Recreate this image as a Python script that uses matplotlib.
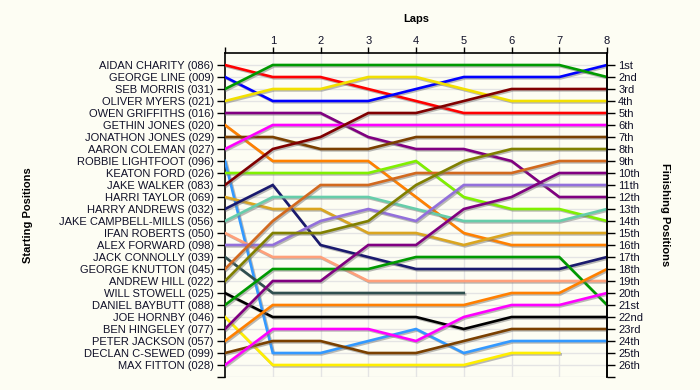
import matplotlib
matplotlib.use("Agg")
import matplotlib.pyplot as plt
import matplotlib.patheffects as pe
import numpy as np

plt.rcParams['font.family'] = ['Liberation Sans', 'DejaVu Sans']

# starting grid order
drivers = ['AIDAN CHARITY (086)', 'GEORGE LINE (009)', 'SEB MORRIS (031)', 'OLIVER MYERS (021)',
           'OWEN GRIFFITHS (016)', 'GETHIN JONES (020)', 'JONATHON JONES (029)', 'AARON COLEMAN (027)',
           'ROBBIE LIGHTFOOT (096)', 'KEATON FORD (026)', 'JAKE WALKER (083)', 'HARRI TAYLOR (069)',
           'HARRY ANDREWS (032)', 'JAKE CAMPBELL-MILLS (056)', 'IFAN ROBERTS (050)', 'ALEX FORWARD (098)',
           'JACK CONNOLLY (039)', 'GEORGE KNUTTON (045)', 'ANDREW HILL (022)', 'WILL STOWELL (025)',
           'DANIEL BAYBUTT (088)', 'JOE HORNBY (046)', 'BEN HINGELEY (077)', 'PETER JACKSON (057)',
           'DECLAN C-SEWED (099)', 'MAX FITTON (028)']

colors = ['#ff0000', '#0000ff', '#009a00', '#f2e000', '#800080', '#ff8000', '#7a4000', '#ff00ff',
          '#3399ff', '#80f000', '#800000', '#daa520', '#1a1a6e', '#66cdaa', '#ffa07a', '#9370db',
          '#2f4f4f', '#d2691e', '#808000', '#000000', '#009a00', '#ffee00', '#800080', '#ff8000',
          '#7a4000', '#ff00ff']

laps = [0, 1, 2, 3, 4, 5, 6, 7, 8]

# position after each lap (lap 0 = grid), None = retired
positions = [
    [1, 2, 2, 3, 4, 5, 5, 5, 5],
    [2, 4, 4, 4, 3, 2, 2, 2, 1],
    [3, 1, 1, 1, 1, 1, 1, 1, 2],
    [4, 3, 3, 2, 2, 3, 4, 4, 4],
    [5, 5, 5, 7, 8, 8, 9, 12, 12],
    [6, 9, 9, 9, 12, 15, 16, 16, 16],
    [7, 7, 8, 8, 7, 7, 7, 7, 7],
    [8, 6, 6, 6, 6, 6, 6, 6, 6],
    [9, 25, 25, 24, 23, 25, 24, 24, 24],
    [10, 10, 10, 10, 9, 12, 13, 13, 14],
    [11, 8, 7, 5, 5, 4, 3, 3, 3],
    [12, 13, 13, 15, 15, 16, 15, 15, 15],
    [13, 11, 16, 17, 18, 18, 18, 18, 17],
    [14, 12, 12, 12, 13, 14, 14, 14, 13],
    [15, 17, 17, 19, 19, 19, 19, 19, 19],
    [16, 16, 14, 13, 14, 11, 11, 11, 11],
    [17, 20, 20, 20, 20, 20, None, None, None],
    [18, 14, 11, 11, 10, 10, 10, 9, 9],
    [19, 15, 15, 14, 11, 9, 8, 8, 8],
    [20, 22, 22, 22, 22, 23, 22, 22, 22],
    [21, 18, 18, 18, 17, 17, 17, 17, 21],
    [22, 26, 26, 26, 26, 26, 25, 25, None],
    [23, 19, 19, 16, 16, 13, 12, 10, 10],
    [24, 21, 21, 21, 21, 21, 20, 20, 18],
    [25, 24, 24, 25, 25, 24, 23, 23, 23],
    [26, 23, 23, 23, 24, 22, 21, 21, 20],
]

finish_labels = ['1st', '2nd', '3rd', '4th', '5th', '6th', '7th', '8th', '9th', '10th', '11th', '12th',
                 '13th', '14th', '15th', '16th', '17th', '18th', '19th', '20th', '21st', '22nd', '23rd',
                 '24th', '25th', '26th']

bg = '#fdfdf3'
txt = '#101028'
fig = plt.figure(figsize=(7, 3.9), dpi=100, facecolor=bg)
ax = fig.add_axes([225/700, 1-377/390, 382/700, 324/390], facecolor=bg)

shadow = [pe.SimpleLineShadow(offset=(1, -1), shadow_color='#777777', alpha=0.5), pe.Normal()]
for name, col, pos in zip(drivers, colors, positions):
    x = [l for l, p in zip(laps, pos) if p is not None]
    y = [p for p in pos if p is not None]
    ax.plot(x, y, color=col, lw=1.9, solid_joinstyle='miter', path_effects=shadow, zorder=3)

n = len(drivers)
ax.set_xlim(0, 8)
ax.set_ylim(n + 1, 0)

ax.xaxis.tick_top()
ax.set_xticks(laps)
ax.set_xticklabels([''] + [str(l) for l in laps[1:]])
ax.set_yticks(range(1, n + 2))
ax.set_yticklabels(drivers + [''])
ax.tick_params(axis='both', direction='out', length=6, width=1, colors='black', labelsize=8,
               labelcolor=txt, pad=2)
ax.tick_params(axis='x', length=4, pad=1)

for l in laps[1:-1]:
    ax.axvline(l, color='#e4e4e4', lw=1, zorder=1)
for p in range(1, n + 2):
    ax.axhline(p, color='#e4e4e4', lw=1, zorder=1)

for s in ['left', 'top', 'right']:
    ax.spines[s].set_color('black')
    ax.spines[s].set_linewidth(1.2)
ax.spines['bottom'].set_visible(False)

ax2 = ax.twinx()
ax2.set_ylim(n + 1, 0)
ax2.set_yticks(range(1, n + 2))
ax2.set_yticklabels(finish_labels + [''])
ax2.tick_params(axis='y', direction='out', length=6, width=1, labelsize=8, labelcolor=txt, pad=2)
for s in ['left', 'top', 'bottom']:
    ax2.spines[s].set_visible(False)
ax2.spines['right'].set_linewidth(1.2)

fig.text(416/700, 1-19/390, 'Laps', ha='center', va='center', fontsize=8, fontweight='bold')
fig.text(28/700, 1-215/390, 'Starting Positions', ha='center', va='center', rotation=90,
         fontsize=8, fontweight='bold')
fig.text(665/700, 1-215/390, 'Finishing Positions', ha='center', va='center', rotation=270,
         fontsize=8, fontweight='bold')

fig.savefig('out.png', dpi=100, facecolor=bg)
